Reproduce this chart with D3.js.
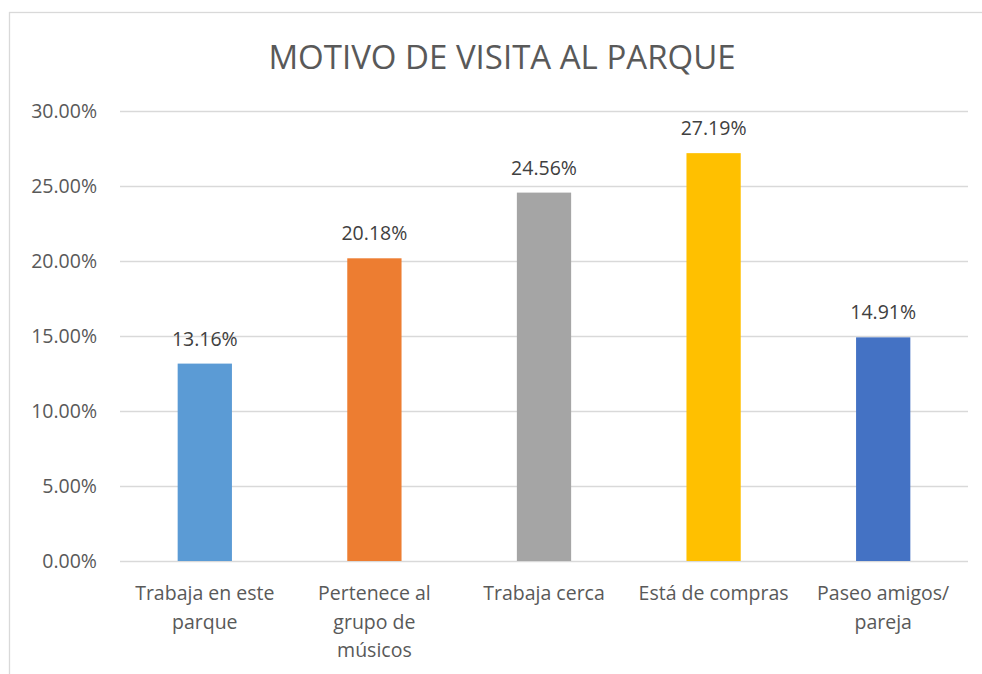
<!DOCTYPE html>
<html><head><meta charset="utf-8">
<script src="https://cdn.jsdelivr.net/npm/d3@7"></script>
<style>body{margin:0;background:#fff;} svg{display:block;}</style>
</head><body>
<script>
const categories = [["Trabaja en este","parque"],["Pertenece al","grupo de","músicos"],["Trabaja cerca"],["Está de compras"],["Paseo amigos/","pareja"]];
const values = [0.1316, 0.2018, 0.2456, 0.2719, 0.1491];
const colors = ["#5B9BD5","#ED7D31","#A5A5A5","#FFC000","#4472C4"];
const yTicks = [0,0.05,0.10,0.15,0.20,0.25,0.30];
const title = "MOTIVO DE VISITA AL PARQUE";

const W=982,H=674;
const font = "'Open Sans', sans-serif";
const svg = d3.select("body").append("svg").attr("width",W).attr("height",H);
svg.append("rect").attr("x",9.5).attr("y",12.5).attr("width",1000).attr("height",700)
  .attr("fill","#fff").attr("stroke","#d9d9d9").attr("stroke-width",1.3);

const x = d3.scaleBand().domain(d3.range(values.length)).range([120,968]).paddingInner(0.68).paddingOuter(0.34);
const y = d3.scaleLinear().domain([0,0.30]).range([561,111]);

svg.append("text").attr("x",502).attr("y",69).attr("text-anchor","middle")
  .attr("font-family",font).attr("font-size",33).attr("fill","#595959").text(title);

const yAxis = d3.axisLeft(y).tickValues(yTicks).tickFormat(d3.format(".2%")).tickSize(-848).tickPadding(23);
const gy = svg.append("g").attr("transform","translate(120,0)").call(yAxis);
gy.select(".domain").remove();
gy.selectAll(".tick line").attr("stroke","#d9d9d9").attr("stroke-width",1.3);
gy.selectAll(".tick text").attr("font-family",font).attr("font-size",19.5).attr("fill","#595959");

svg.selectAll(".bar").data(values).enter().append("rect")
  .attr("x",(d,i)=>x(i)).attr("width",x.bandwidth())
  .attr("y",d=>y(d)).attr("height",d=>y(0)-y(d)).attr("fill",(d,i)=>colors[i]);

svg.selectAll(".lbl").data(values).enter().append("text")
  .attr("x",(d,i)=>x(i)+x.bandwidth()/2).attr("y",d=>y(d)-18).attr("text-anchor","middle")
  .attr("font-family",font).attr("font-size",19.5).attr("fill","#404040")
  .text(d3.format(".2%"));

const cg = svg.selectAll(".cat").data(categories).enter().append("text")
  .attr("text-anchor","middle").attr("font-family",font).attr("font-size",19.5).attr("fill","#595959");
cg.each(function(lines,i){
  const t=d3.select(this);
  lines.forEach((l,j)=>t.append("tspan").attr("x",x(i)+x.bandwidth()/2).attr("y",600+j*28.5).text(l));
});
</script>
</body></html>
